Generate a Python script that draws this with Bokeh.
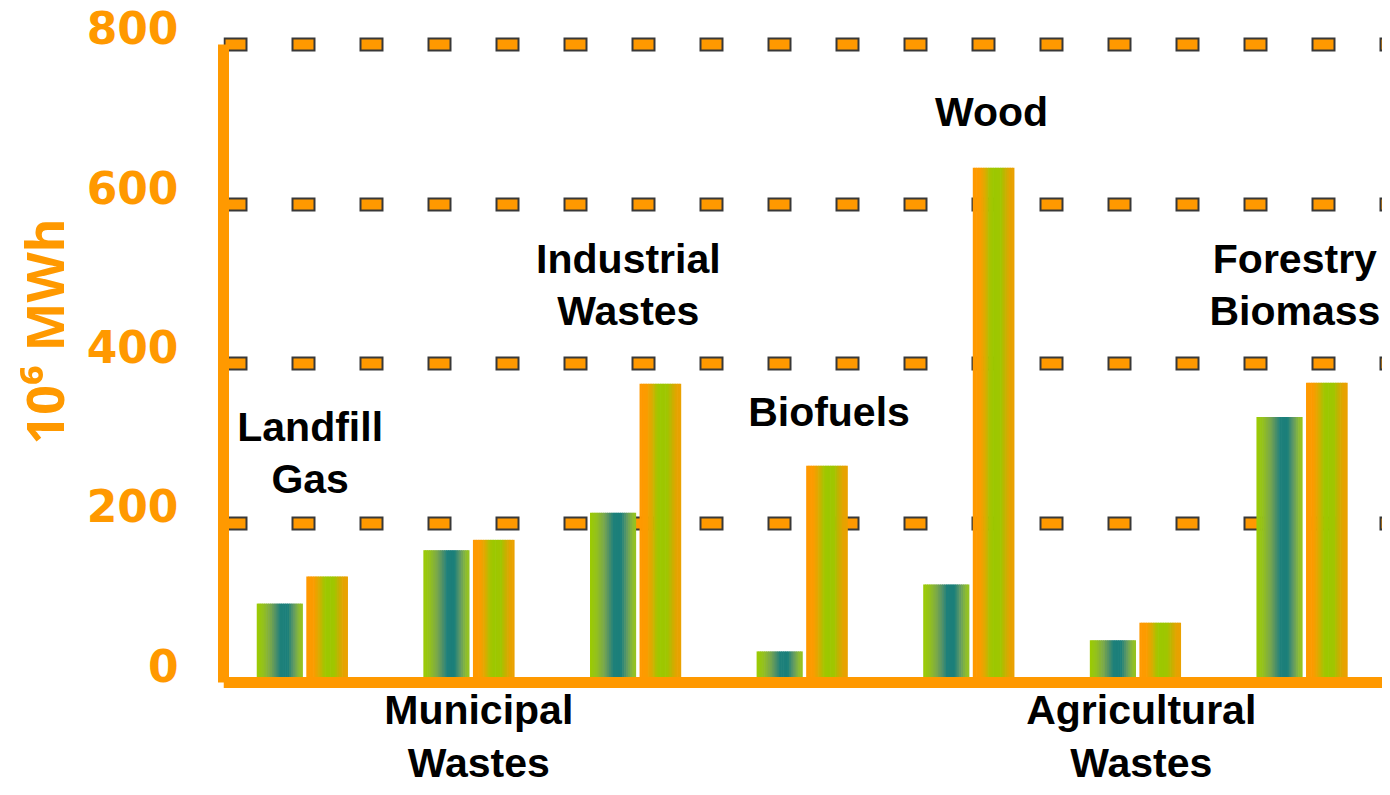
from bokeh.plotting import figure
from bokeh.models import ColumnDataSource, FactorRange, Range1d, FixedTicker, Grid, Span, Title
from bokeh.transform import dodge
from bokeh.core.properties import value
from bokeh.embed import file_html
from bokeh.resources import INLINE

# ---------------- data ----------------
categories = ["Landfill Gas", "Municipal Wastes", "Industrial Wastes", "Biofuels",
              "Wood", "Agricultural Wastes", "Forestry Biomass"]
series_a = [99, 166, 213, 39, 123, 53, 333]     # first bar of each pair
series_b = [133, 179, 375, 272, 646, 75, 376]   # second bar of each pair
label_text = ["Landfill\nGas", "Municipal\nWastes", "Industrial\nWastes", "Biofuels",
              "Wood", "Agricultural\nWastes", "Forestry\nBiomass"]
y_ticks = [0, 200, 400, 600, 800]
y_title = "10\u2076 MWh"

# ---------------- layout / style ----------------
label_y = [288, -68, 499, 339, 716, -68, 499]   # vertical centre of each label (data units)
label_dx = [7, 9, -8, 26, 22, 5, -8]            # horizontal nudge in pixels

ORANGE = "#ff9900"
DARK = "#383838"
stops_a = [(0.0, "#9ccc00"), (0.15, "#93c01f"), (0.3, "#7aa84a"), (0.42, "#4f9068"),
           (0.52, "#1e807a"), (0.68, "#1a7f7a"), (0.8, "#5c9868"), (0.92, "#88b83a"),
           (1.0, "#98c61a")]
stops_b = [(0.0, "#ff9900"), (0.18, "#fb9c00"), (0.3, "#dcab00"), (0.42, "#a8c400"),
           (0.5, "#9cc800"), (0.68, "#a0c600"), (0.8, "#c8b000"), (0.9, "#e4a400"),
           (1.0, "#eba000")]


def hex2rgb(h):
    h = h.lstrip("#")
    return [int(h[i:i + 2], 16) for i in (0, 2, 4)]


def grad(stops, t):
    for (t0, c0), (t1, c1) in zip(stops[:-1], stops[1:]):
        if t0 <= t <= t1:
            f = (t - t0) / (t1 - t0) if t1 > t0 else 0
            a, b = hex2rgb(c0), hex2rgb(c1)
            r = [round(a[i] + (b[i] - a[i]) * f) for i in range(3)]
            return "#%02x%02x%02x" % tuple(r)
    return stops[-1][1]


src = ColumnDataSource(dict(cat=categories, a=series_a, b=series_b))
lsrc = ColumnDataSource(dict(cat=categories, ly=label_y, lt=label_text, dx=label_dx))

p = figure(width=1382, height=787,
           x_range=FactorRange(*categories, range_padding=-0.022, range_padding_units="absolute"),
           y_range=Range1d(-131.8, 855.8),
           x_axis_location=None,
           output_backend="svg", toolbar_location=None,
           min_border_left=223, min_border_right=0, min_border_top=0, min_border_bottom=0)
p.outline_line_color = None
p.background_fill_color = "white"
p.border_fill_color = "white"

# grid: dark dashes with orange inner dashes
grid_ticks = y_ticks[1:]
p.xgrid.visible = False
p.ygrid.ticker = FixedTicker(ticks=grid_ticks)
p.ygrid.grid_line_color = DARK
p.ygrid.grid_line_width = 14
p.ygrid.grid_line_dash = "24 44"
g2 = Grid(dimension=1, ticker=FixedTicker(ticks=grid_ticks), grid_line_color=ORANGE,
          grid_line_width=10, grid_line_dash="20 48", grid_line_dash_offset=66)
p.center.append(g2)

# gradient bars drawn as thin strips
N = 24


def draw_bar(field, center, width, stops):
    sw = width / N
    for k in range(N):
        t = (k + 0.5) / N
        off = center - width / 2 + (k + 0.5) * sw
        p.vbar(x=dodge("cat", off, range=p.x_range), top=field, bottom=0,
               width=sw + 0.004, fill_color=grad(stops, t), line_color=None, source=src)


draw_bar("a", -0.14, 0.273, stops_a)
draw_bar("b", 0.144, 0.246, stops_b)

# x axis line at zero
p.add_layout(Span(location=0, dimension="width", line_color=ORANGE, line_width=11))

# y axis
ax = p.yaxis[0]
ax.ticker = FixedTicker(ticks=y_ticks)
ax.bounds = (0, 800)
ax.axis_line_color = ORANGE
ax.axis_line_width = 11
ax.major_tick_line_color = None
ax.minor_tick_line_color = None
ax.major_tick_out = 0
ax.major_label_standoff = 45
ax.major_label_text_font = "DejaVu Sans"
ax.major_label_text_font_style = "bold"
ax.major_label_text_font_size = "44px"
ax.major_label_text_color = ORANGE
# labels sit a little above their tick in the reference: add an empty second line
ax.major_label_text_line_height = 0.64
ax.major_label_overrides = {t: "%d\n" % t for t in y_ticks}

# y title, placed on the left side with its top end where the reference has it
ytitle = Title(text=y_title, align="right", offset=218, standoff=10,
               text_font="Noto Sans", text_font_style="bold", text_font_size="52px",
               text_color=ORANGE)
p.add_layout(ytitle, "left")

# category labels
p.text(x="cat", y="ly", text="lt", x_offset="dx", source=lsrc,
       text_font=value("Liberation Sans"), text_font_style="bold",
       text_font_size="41px", text_align="center", text_baseline="middle",
       text_line_height=1.14, text_color="#000000")

open("out.html", "w").write(file_html(p, INLINE))
